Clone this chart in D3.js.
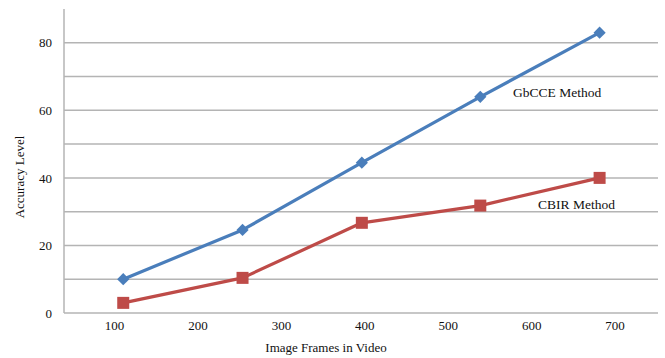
<!DOCTYPE html>
<html>
<head>
<meta charset="utf-8">
<script src="https://cdn.jsdelivr.net/npm/d3@7"></script>
<style>
  html, body { margin: 0; padding: 0; background: #fff; }
  svg text { font-family: "Liberation Serif", "Times New Roman", serif; fill: #111; }
</style>
</head>
<body>
<svg id="chart" width="665" height="358"></svg>
<script>
// Data
const frames = [111, 254, 397, 539, 682];
const gbcce = [10, 24.6, 44.5, 64, 83];
const cbir = [3, 10.4, 26.7, 31.8, 40];
const xTicks = [100, 200, 300, 400, 500, 600, 700];
const yTicks = [0, 20, 40, 60, 80];
const yGrid = [0, 10, 20, 30, 40, 50, 60, 70, 80];
const seriesNames = ["GbCCE Method", "CBIR Method"];

const svg = d3.select("#chart");
const mLeft = 64, mRight = 658, mTop = 9, mBottom = 313;

const x = d3.scaleLinear().domain([40, 752]).range([mLeft, mRight]);
const y = d3.scaleLinear().domain([0, 90]).range([mBottom, mTop]);

// grid lines
svg.append("g").selectAll("line").data(yGrid).join("line")
  .attr("x1", mLeft).attr("x2", mRight)
  .attr("y1", d => y(d)).attr("y2", d => y(d))
  .attr("stroke", "#b4b4b4").attr("stroke-width", 1.5);

// left axis line
svg.append("line").attr("x1", mLeft).attr("x2", mLeft)
  .attr("y1", mTop).attr("y2", mBottom)
  .attr("stroke", "#b4b4b4").attr("stroke-width", 1.5);

// y axis
const yAxis = d3.axisLeft(y).tickValues(yTicks).tickSize(0).tickPadding(0);
const gy = svg.append("g").attr("transform", `translate(${mLeft - 12},0)`).call(yAxis);
gy.select(".domain").remove();
gy.selectAll("text").style("font-size", "13px").attr("fill", "#111")
  .style("font-family", '"Liberation Serif", serif');

// x axis
const xAxis = d3.axisBottom(x).tickValues(xTicks).tickSize(0).tickPadding(0);
const gx = svg.append("g").attr("transform", `translate(0,${mBottom + 8})`).call(xAxis);
gx.select(".domain").remove();
gx.selectAll("text").style("font-size", "13px").attr("fill", "#111")
  .style("font-family", '"Liberation Serif", serif');

// axis titles
svg.append("text").attr("x", 326).attr("y", 352).attr("text-anchor", "middle")
  .style("font-size", "13px").text("Image Frames in Video");
svg.append("text").attr("transform", "translate(24,177) rotate(-90)")
  .attr("text-anchor", "middle").style("font-size", "13px").text("Accuracy Level");

const line = d3.line().x(d => x(d[0])).y(d => y(d[1]));
const blueData = frames.map((f, i) => [f, gbcce[i]]);
const redData = frames.map((f, i) => [f, cbir[i]]);

const blue = "#4a7ebb", red = "#be4b48";

svg.append("path").datum(blueData).attr("d", line)
  .attr("fill", "none").attr("stroke", blue).attr("stroke-width", 3.2).attr("stroke-linejoin", "round");
svg.append("path").datum(redData).attr("d", line)
  .attr("fill", "none").attr("stroke", red).attr("stroke-width", 3.2).attr("stroke-linejoin", "round");

svg.append("g").selectAll("path").data(blueData).join("path")
  .attr("transform", d => `translate(${x(d[0])},${y(d[1])})`)
  .attr("d", d3.symbol(d3.symbolDiamond2, 95)())
  .attr("fill", blue);

svg.append("g").selectAll("rect").data(redData).join("rect")
  .attr("x", d => x(d[0]) - 6).attr("y", d => y(d[1]) - 6)
  .attr("width", 12).attr("height", 12)
  .attr("fill", red);

// series labels
svg.append("text").attr("x", 513).attr("y", 97).style("font-size", "13.5px").text(seriesNames[0]);
svg.append("text").attr("x", 538).attr("y", 209).style("font-size", "13.5px").text(seriesNames[1]);
</script>
</body>
</html>
